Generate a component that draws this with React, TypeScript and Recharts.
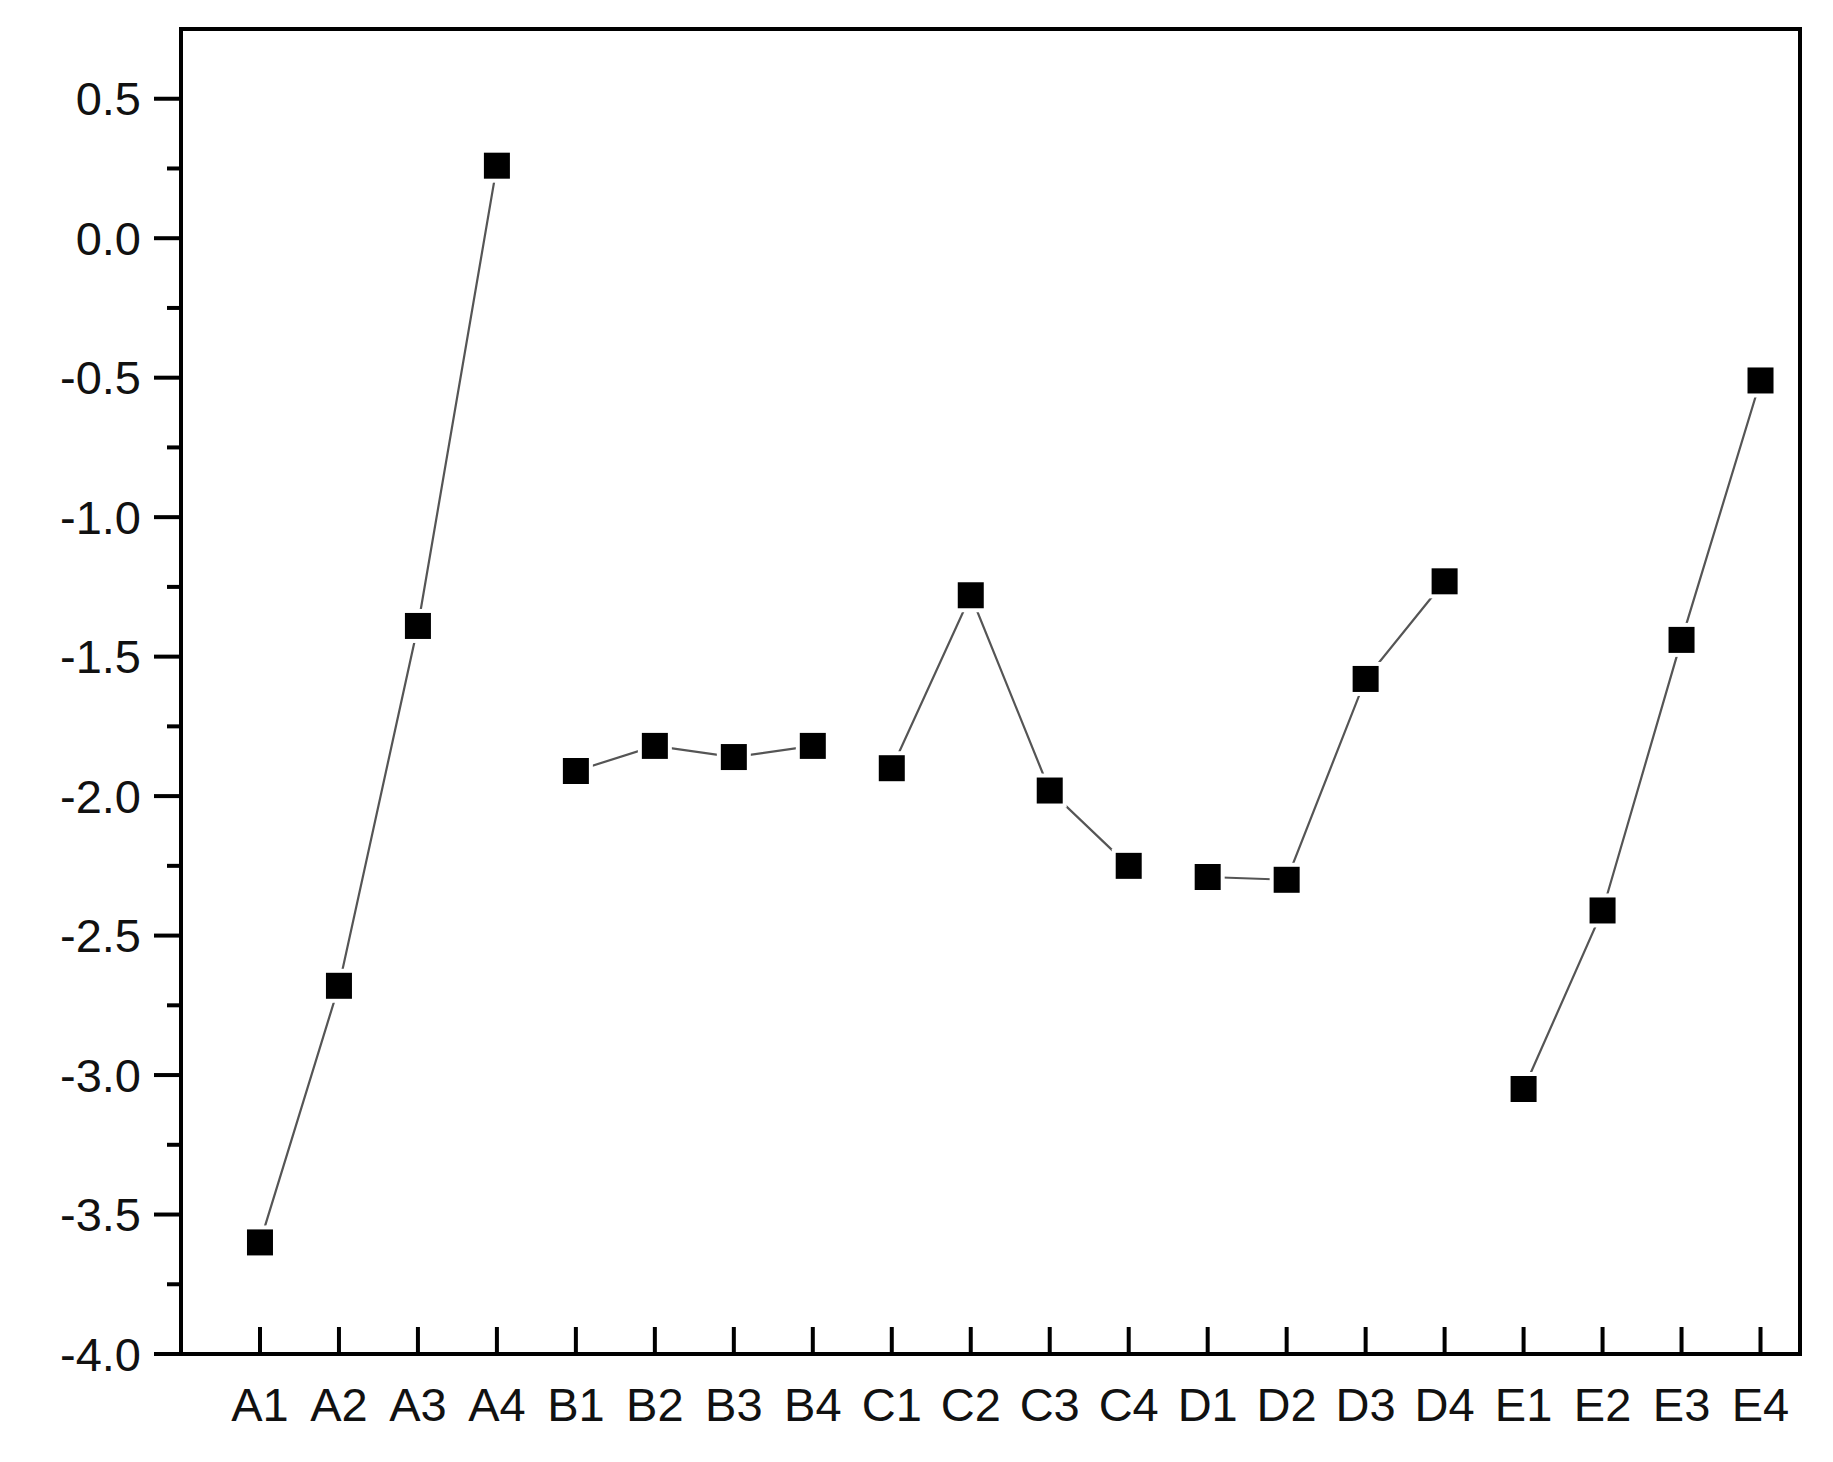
import { LineChart, Line, XAxis, YAxis, ReferenceArea } from 'recharts';

const labels = [
    'A1', 'A2', 'A3', 'A4', 'B1', 'B2', 'B3', 'B4', 'C1', 'C2',
    'C3', 'C4', 'D1', 'D2', 'D3', 'D4', 'E1', 'E2', 'E3', 'E4',
];
const groupA = [-3.60, -2.68, -1.39, 0.26];
const groupB = [-1.91, -1.82, -1.86, -1.82];
const groupC = [-1.90, -1.28, -1.98, -2.25];
const groupD = [-2.29, -2.30, -1.58, -1.23];
const groupE = [-3.05, -2.41, -1.44, -0.51];
const groups: { key: string; values: number[] }[] = [
    { key: 'A', values: groupA },
    { key: 'B', values: groupB },
    { key: 'C', values: groupC },
    { key: 'D', values: groupD },
    { key: 'E', values: groupE },
];
const yTicks = [-4, -3.75, -3.5, -3.25, -3, -2.75, -2.5, -2.25, -2, -1.75, -1.5, -1.25, -1, -0.75, -0.5, -0.25, 0, 0.25, 0.5];
const xTicks = labels.map((_, i) => i + 1);

// one row per category, only the owning group gets a value
const data = labels.map((label, i) => {
    const row: Record<string, any> = { x: i + 1, label };
    groups.forEach((g, gi) => {
        row[g.key] = Math.floor(i / 4) === gi ? g.values[i % 4] : null;
    });
    return row;
});

const FONT = '"Liberation Sans", Arial, sans-serif';

const SquareDot = (props: any) => {
    const { cx, cy, value } = props;
    if (value == null || cx == null || cy == null) return null;
    return (
        <g>
            <rect x={cx - 17} y={cy - 17} width={34} height={34} fill="#fff" />
            <rect x={cx - 13} y={cy - 13} width={26} height={26} fill="#000" />
        </g>
    );
};

const YTick = (props: any) => {
    const { x, y, payload } = props;
    const v = payload.value;
    const major = Math.abs(v * 2 - Math.round(v * 2)) < 1e-6;
    return (
        <g>
            <line x1={x} x2={x - (major ? 27 : 14)} y1={y} y2={y} stroke="#000" strokeWidth={4} />
            {major && (
                <text x={x - 40} y={y} textAnchor="end" dominantBaseline="central"
                    fontSize={47} fontFamily={FONT} fill="#111">
                    {v.toFixed(1)}
                </text>
            )}
        </g>
    );
};

const XTick = (props: any) => {
    const { x, y, payload } = props;
    return (
        <g>
            <line x1={x} x2={x} y1={y} y2={y - 27} stroke="#000" strokeWidth={4} />
            <text x={x} y={y + 50} textAnchor="middle" dominantBaseline="central"
                fontSize={47} fontFamily={FONT} fill="#111">
                {labels[payload.value - 1]}
            </text>
        </g>
    );
};

export default function App() {
    return (
        <div style={{ width: 1817, height: 1446, background: '#fff' }}>
            <LineChart width={1817} height={1446} data={data}
                margin={{ top: 21, right: 25, bottom: 0, left: 0 }}>
                <XAxis dataKey="x" type="number" domain={[0, 20.5]} ticks={xTicks}
                    interval={0} height={100} tickSize={0} tickMargin={0}
                    axisLine={{ stroke: '#000', strokeWidth: 4 }} tickLine={false}
                    tick={<XTick />} />
                <YAxis type="number" domain={[-4, 0.75]} ticks={yTicks} interval={0}
                    width={173} tickSize={0} tickMargin={0}
                    axisLine={{ stroke: '#000', strokeWidth: 4 }} tickLine={false}
                    tick={<YTick />} />
                <ReferenceArea x1={0} x2={20.5} y1={-4} y2={0.75}
                    fill="none" stroke="#000" strokeWidth={4} />
                {groups.map((g) => (
                    <Line key={g.key} dataKey={g.key} type="linear" stroke="#555"
                        strokeWidth={2.2} connectNulls={false} dot={<SquareDot />}
                        activeDot={false} isAnimationActive={false} />
                ))}
            </LineChart>
        </div>
    );
}
